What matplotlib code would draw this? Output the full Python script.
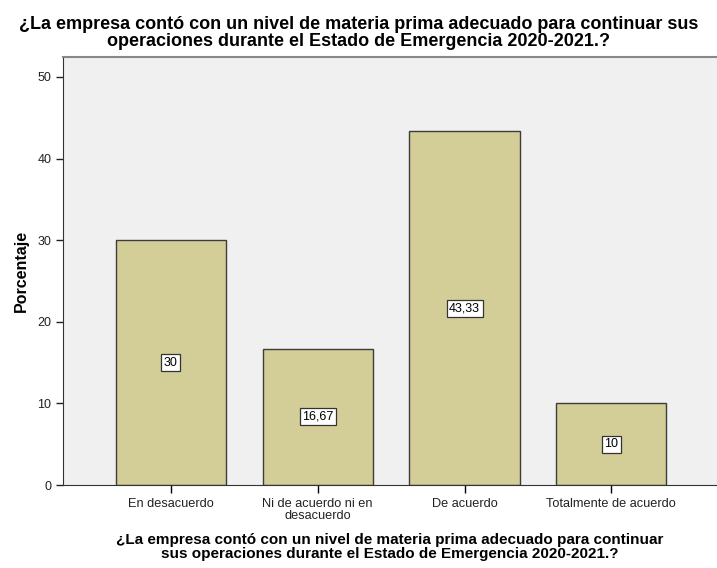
import matplotlib
matplotlib.use('Agg')
import matplotlib.pyplot as plt

categories = ['En desacuerdo', 'Ni de acuerdo ni en\ndesacuerdo', 'De acuerdo', 'Totalmente de acuerdo']
values = [30, 16.67, 43.33, 10]
labels = ['30', '16,67', '43,33', '10']
yticks = [0, 10, 20, 30, 40, 50]
question = '¿La empresa contó con un nivel de materia prima adecuado para continuar sus\noperaciones durante el Estado de Emergencia 2020-2021.?'
xlabel = '¿La empresa contó con un nivel de materia prima adecuado para continuar\nsus operaciones durante el Estado de Emergencia 2020-2021.?'

plt.rcParams['font.family'] = ['Liberation Sans', 'DejaVu Sans']

fig = plt.figure(figsize=(7.17, 5.68), dpi=100)
ax = fig.add_axes([63 / 717, 83 / 568, 1 - 63 / 717, (485 - 57) / 568])
ax.set_facecolor('#f0f0f0')

x = list(range(len(categories)))
bars = ax.bar(x, values, width=0.75, color='#d3ce97', edgecolor='#3c3c3c', linewidth=1.0, zorder=2)

for xi, v, lab in zip(x, values, labels):
  ax.text(xi, v / 2, lab, ha='center', va='center', fontsize=9, zorder=3,
          bbox=dict(boxstyle='square,pad=0.2', facecolor='white', edgecolor='#333333', linewidth=0.9))

ax.set_xlim(-0.735, 3.72)
ax.set_ylim(0, 52.45)
ax.set_yticks(yticks)
ax.set_xticks(x)
ax.set_xticklabels(categories, fontsize=9.2, color='#222222', linespacing=1.0)
ax.tick_params(axis='y', labelsize=9, colors='#222222', length=5, width=1)
ax.tick_params(axis='x', length=6, width=1)

ax.spines['right'].set_visible(False)
ax.spines['top'].set_color('#888888')
ax.spines['top'].set_linewidth(1.5)
ax.spines['left'].set_color('#333333')
ax.spines['bottom'].set_color('#333333')

ax.set_ylabel('Porcentaje', fontsize=11.5, fontweight='bold', labelpad=6)
ax.set_xlabel(xlabel, fontsize=11, fontweight='bold', labelpad=8, linespacing=0.95)

fig.text(0.5, 0.971, question, ha='center', va='top', fontsize=13, fontweight='bold', linespacing=0.95)

fig.savefig('out.png', dpi=100)
